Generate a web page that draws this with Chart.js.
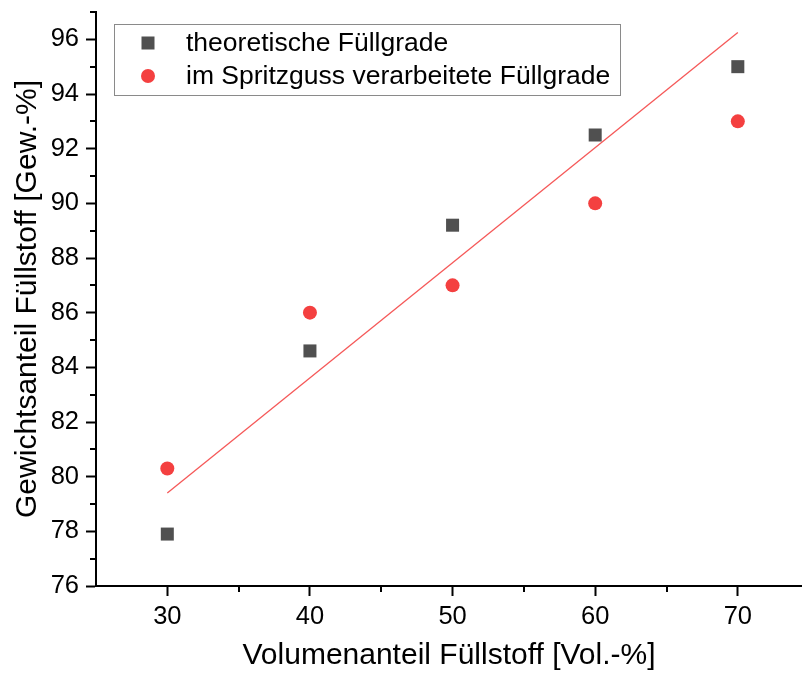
<!DOCTYPE html>
<html>
<head>
<meta charset="utf-8">
<script src="https://cdn.jsdelivr.net/npm/chart.js@4/dist/chart.umd.min.js"></script>
<style>
  body { margin: 0; background: #fff; overflow: hidden; }
</style>
</head>
<body>
<canvas id="fuellChart" width="802" height="675"></canvas>
<script>
// Volumenanteil Füllstoff [Vol.-%]
var volumen = [30, 40, 50, 60, 70];
// Gewichtsanteil, theoretisch berechnet
var theoretisch = [77.9, 84.6, 89.2, 92.5, 95.0];
// Gewichtsanteil, im Spritzguss verarbeitet
var spritzguss = [80.3, 86.0, 87.0, 90.0, 93.0];
// lineare Anpassung (Endpunkte)
var fitX = [30, 70];
var fitY = [79.4, 96.25];

var xTicks = [30, 40, 50, 60, 70];
var xMinor = [35, 45, 55, 65];
var yTicks = [76, 78, 80, 82, 84, 86, 88, 90, 92, 94, 96];
var yMinor = [77, 79, 81, 83, 85, 87, 89, 91, 93, 95, 97];

var legendLabels = ['theoretische Füllgrade', 'im Spritzguss verarbeitete Füllgrade'];

var grau = '#505050';
var rot = '#f44040';
var FONT = '"Liberation Sans", Arial, sans-serif';

function pts(xs, ys) {
    return xs.map(function (x, i) { return { x: x, y: ys[i] }; });
}

// Achsen ohne automatischen Randabstand
function fixBox(width, height) {
    return function (scale) {
        if (width) scale.width = width;
        if (height) scale.height = height;
        scale.paddingTop = 0;
        scale.paddingBottom = 0;
        scale.paddingLeft = 0;
        scale.paddingRight = 0;
    };
}

// Nebenteilstriche und Legendenkasten
var extras = {
    id: 'extras',
    afterDraw: function (chart) {
        var ctx = chart.ctx;
        var xs = chart.scales.x, ys = chart.scales.y;
        var area = chart.chartArea;
        ctx.save();
        ctx.strokeStyle = '#000';
        ctx.lineWidth = 2;
        ctx.beginPath();
        yMinor.forEach(function (v) {
            var py = Math.round(ys.getPixelForValue(v));
            ctx.moveTo(area.left - 6, py);
            ctx.lineTo(area.left, py);
        });
        xMinor.forEach(function (v) {
            var px = Math.round(xs.getPixelForValue(v));
            ctx.moveTo(px, area.bottom);
            ctx.lineTo(px, area.bottom + 6);
        });
        ctx.stroke();

        // Legende
        ctx.strokeStyle = '#8a8a8a';
        ctx.lineWidth = 1;
        ctx.fillStyle = '#fff';
        ctx.fillRect(114.5, 24.5, 506, 71);
        ctx.strokeRect(114.5, 24.5, 506, 71);

        ctx.fillStyle = grau;
        ctx.fillRect(148 - 6.5, 43 - 6.5, 13, 13);
        ctx.fillStyle = rot;
        ctx.beginPath();
        ctx.arc(148, 76, 7, 0, Math.PI * 2);
        ctx.fill();

        ctx.fillStyle = '#000';
        ctx.font = '26.5px ' + FONT;
        ctx.textBaseline = 'middle';
        ctx.textAlign = 'left';
        ctx.fillText(legendLabels[0], 186, 44);
        ctx.fillText(legendLabels[1], 186, 77);
        ctx.restore();
    }
};

var config = {
    type: 'scatter',
    data: {
        datasets: [{
            label: legendLabels[0],
            data: pts(volumen, theoretisch),
            pointStyle: 'rect',
            pointRadius: 9.2,
            pointHoverRadius: 9.2,
            backgroundColor: grau,
            borderColor: grau,
            borderWidth: 0,
            order: 1
        }, {
            label: legendLabels[1],
            data: pts(volumen, spritzguss),
            pointStyle: 'circle',
            pointRadius: 7,
            pointHoverRadius: 7,
            backgroundColor: rot,
            borderColor: rot,
            borderWidth: 0,
            order: 2
        }, {
            label: 'Fit',
            data: pts(fitX, fitY),
            showLine: true,
            pointRadius: 0,
            borderColor: 'rgba(244, 70, 70, 0.9)',
            borderWidth: 1.3,
            order: 3
        }]
    },
    options: {
        responsive: false,
        animation: false,
        layout: { autoPadding: false, padding: { top: 12, right: 0, left: 0, bottom: 0 } },
        plugins: {
            legend: { display: false },
            tooltip: { enabled: false }
        },
        scales: {
            x: {
                type: 'linear',
                min: 25,
                max: 74.5,
                afterBuildTicks: function (scale) {
                    scale.ticks = xTicks.map(function (v) { return { value: v }; });
                },
                afterFit: fixBox(0, 89),
                border: { color: '#000', width: 2 },
                grid: { drawOnChartArea: false, drawTicks: true, tickLength: 10, tickColor: '#000', tickWidth: 2 },
                ticks: { color: '#000', font: { family: FONT, size: 25.5 }, padding: 6, maxRotation: 0 },
                title: {
                    display: true,
                    text: 'Volumenanteil Füllstoff [Vol.-%]',
                    color: '#000',
                    font: { family: FONT, size: 30 },
                    padding: { top: 0, bottom: 1 }
                }
            },
            y: {
                type: 'linear',
                min: 76,
                max: 97,
                afterBuildTicks: function (scale) {
                    scale.ticks = yTicks.map(function (v) { return { value: v }; });
                },
                afterFit: fixBox(96, 0),
                border: { color: '#000', width: 2 },
                grid: { drawOnChartArea: false, drawTicks: true, tickLength: 10, tickColor: '#000', tickWidth: 2 },
                ticks: { color: '#000', font: { family: FONT, size: 25.5 }, padding: 7 },
                title: {
                    display: true,
                    text: 'Gewichtsanteil Füllstoff [Gew.-%]',
                    color: '#000',
                    font: { family: FONT, size: 30 },
                    padding: { top: 10, bottom: 0 }
                }
            }
        }
    },
    plugins: [extras]
};

var chart = new Chart(document.getElementById('fuellChart').getContext('2d'), config);
</script>
</body>
</html>
